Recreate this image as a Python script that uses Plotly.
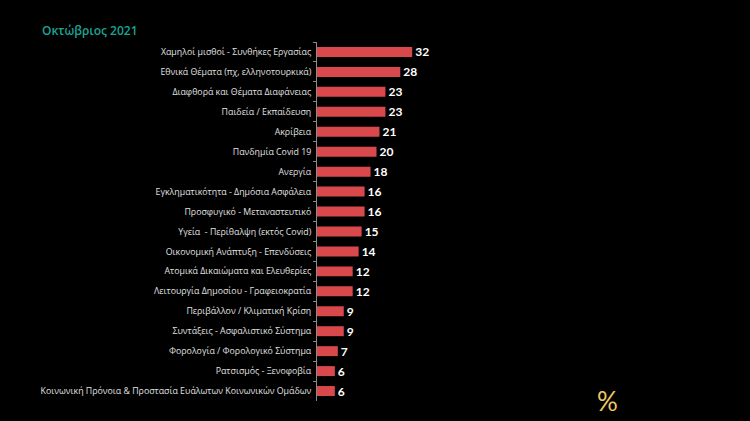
import plotly.graph_objects as go

categories = [
    "Χαμηλοί μισθοί - Συνθήκες Εργασίας",
    "Εθνικά Θέματα (πχ, ελληνοτουρκικά)",
    "Διαφθορά και Θέματα Διαφάνειας",
    "Παιδεία / Εκπαίδευση",
    "Ακρίβεια",
    "Πανδημία Covid 19",
    "Ανεργία",
    "Εγκληματικότητα - Δημόσια Ασφάλεια",
    "Προσφυγικό - Μεταναστευτικό",
    "Υγεία  - Περίθαλψη (εκτός Covid)",
    "Οικονομική Ανάπτυξη - Επενδύσεις",
    "Ατομικά Δικαιώματα και Ελευθερίες",
    "Λειτουργία Δημοσίου - Γραφειοκρατία",
    "Περιβάλλον / Κλιματική Κρίση",
    "Συντάξεις - Ασφαλιστικό Σύστημα",
    "Φορολογία / Φορολογικό Σύστημα",
    "Ρατσισμός - Ξενοφοβία",
    "Κοινωνική Πρόνοια & Προστασία Ευάλωτων Κοινωνικών Ομάδων",
]
values = [32, 28, 23, 23, 21, 20, 18, 16, 16, 15, 14, 12, 12, 9, 9, 7, 6, 6]
title_text = "Οκτώβριος 2021"

fig = go.Figure()
fig.add_trace(go.Bar(
    x=values,
    y=categories,
    orientation="h",
    marker=dict(color="#d9484b", line=dict(width=0)),
    width=0.5,
    text=[str(v) for v in values],
    textposition="outside",
    constraintext="none",
    textfont=dict(color="white", size=12, family="Lato", weight="bold"),
    cliponaxis=False,
))

fig.update_layout(
    width=750, height=421,
    paper_bgcolor="black", plot_bgcolor="black",
    margin=dict(l=317, r=314, t=42, b=20),
    showlegend=False,
    uniformtext=dict(minsize=12, mode="show"),
    font=dict(family="Open Sans", color="#e6e6e6"),
    xaxis=dict(range=[0, 40], visible=False, fixedrange=True),
    yaxis=dict(
        autorange="reversed",
        tickson="boundaries",
        ticks="outside", ticklen=3, tickcolor="#8a8a8a",
        showline=True, linecolor="#8a8a8a", linewidth=1,
        showgrid=False, zeroline=False,
        ticklabelstandoff=3,
        tickfont=dict(size=8.8, color="#e0e0e0", family="Open Sans"),
    ),
    annotations=[
        dict(text=title_text, x=40, y=30, xref="paper", yref="paper",
             showarrow=False, xanchor="left", yanchor="middle",
             font=dict(size=12, color="#1aa593", family="Open Sans", weight=600)),
        dict(text="%", x=607, y=401, xref="paper", yref="paper",
             showarrow=False, xanchor="center", yanchor="middle",
             font=dict(size=26, color="#f0c866", family="Lato")),
    ],
)

pw = 750 - 317 - 314
ph = 421 - 42 - 20
for a in fig.layout.annotations:
    px, py = a.x, a.y
    a.x = (px - 317) / pw
    a.y = (421 - 20 - py) / ph

fig.write_html("out.html")
